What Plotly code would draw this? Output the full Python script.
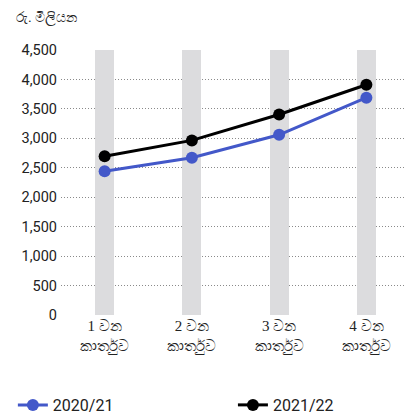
import plotly.graph_objects as go

quarters = ["1 වන<br>කාර්තුව", "2 වන<br>කාර්තුව", "3 වන<br>කාර්තුව", "4 වන<br>කාර්තුව"]
values_2020_21 = [2440, 2670, 3060, 3690]
values_2021_22 = [2695, 2965, 3405, 3910]
band_top = [4500, 4500, 4500, 4500]
y_ticks = [0, 500, 1000, 1500, 2000, 2500, 3000, 3500, 4000, 4500]

fig = go.Figure()

# grey vertical bands behind each quarter
fig.add_trace(go.Bar(
    x=quarters, y=band_top, width=0.22,
    marker=dict(color="#dcdcde", line=dict(width=0)),
    showlegend=False, hoverinfo="skip"
))

fig.add_trace(go.Scatter(
    x=quarters, y=values_2020_21, name="2020/21",
    mode="lines+markers", legend="legend",
    line=dict(color="#4358c9", width=3),
    marker=dict(color="#4358c9", size=12)
))
fig.add_trace(go.Scatter(
    x=quarters, y=values_2021_22, name="2021/22",
    mode="lines+markers", legend="legend2",
    line=dict(color="#000000", width=3),
    marker=dict(color="#000000", size=12)
))

legend_style = dict(
    orientation="h", xref="container", yref="container",
    y=0.027, xanchor="left", yanchor="middle",
    font=dict(size=16, color="#222222"),
)

# page body has an 8px margin, so the figure is 8px smaller than the window
fig.update_layout(
    width=406, height=408,
    margin=dict(l=53, r=4, t=42, b=101),
    plot_bgcolor="white", paper_bgcolor="white",
    font=dict(family="Roboto, Arial, sans-serif", size=14.5, color="#222222"),
    showlegend=True,
    legend=dict(x=0.012, **legend_style),
    legend2=dict(x=0.554, **legend_style),
    annotations=[dict(
        text="රු. මිලියන", xref="paper", yref="paper",
        x=-0.135, y=1.121, xanchor="left", yanchor="middle",
        showarrow=False, font=dict(size=14, color="#222222")
    )],
    bargap=0,
)

fig.update_xaxes(
    showgrid=False, showline=False, zeroline=False,
    ticks="", tickfont=dict(size=15, family="serif", color="#222222"),
    range=[-0.5, 3.5],
)
fig.update_yaxes(
    range=[0, 4500], tickvals=y_ticks, tickformat=",",
    showgrid=True, gridcolor="#8a8a8a", griddash="1px,2px", gridwidth=1,
    zeroline=False, showline=False, ticks="", ticklen=0, ticklabelstandoff=3,
)

fig.write_html("out.html")
